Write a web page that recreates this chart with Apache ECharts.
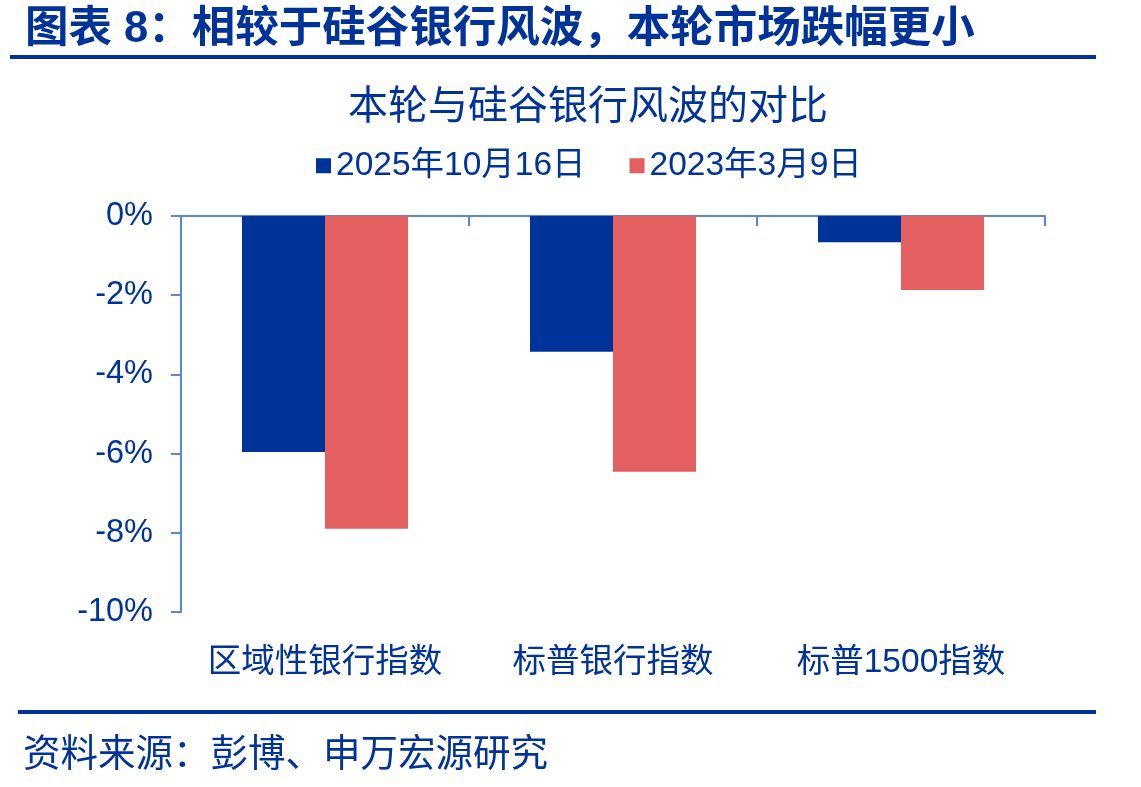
<!DOCTYPE html>
<html>
<head>
<meta charset="utf-8">
<script src="https://cdn.jsdelivr.net/npm/echarts@6/dist/echarts.min.js"></script>
<style>
  html, body { margin: 0; padding: 0; background: #fff; }
  #chart { width: 1141px; height: 787px; }
</style>
</head>
<body>
<div id="chart"></div>
<script>
const categories = ['区域性银行指数', '标普银行指数', '标普1500指数'];
const seriesNames = ['2025年10月16日', '2023年3月9日'];
const recentDrop = [-5.96, -3.43, -0.66];
const svbDrop = [-7.9, -6.46, -1.87];
const yTicks = { min: -10, max: 0, interval: 2 };

const textBlue = '#003399';
const axisBlue = '#5B87D6';
const font = '"Liberation Sans", "Noto Sans CJK SC", sans-serif';

const chart = echarts.init(document.getElementById('chart'));

const option = {
  animation: false,
  textStyle: { fontFamily: font, color: textBlue },
  title: [
    {
      text: '图表 8：相较于硅谷银行风波，本轮市场跌幅更小',
      left: 20, top: 3,
      textStyle: { fontSize: 43.5, fontWeight: 'bold', color: textBlue, fontFamily: font }
    },
    {
      text: '本轮与硅谷银行风波的对比',
      left: 343, top: 83,
      textStyle: { fontSize: 40, fontWeight: 'normal', color: textBlue, fontFamily: font }
    },
    {
      text: '资料来源：彭博、申万宏源研究',
      left: 18, top: 732,
      textStyle: { fontSize: 37.5, fontWeight: 'normal', color: textBlue, fontFamily: font }
    }
  ],
  graphic: [
    { type: 'rect', shape: { x: 10, y: 55, width: 1086, height: 4 }, style: { fill: textBlue } },
    { type: 'rect', shape: { x: 18, y: 710, width: 1078, height: 4 }, style: { fill: textBlue } }
  ],
  legend: {
    data: seriesNames,
    top: 144,
    left: 311,
    itemWidth: 15,
    itemHeight: 15,
    itemGap: 44,
    icon: 'rect',
    textStyle: { fontSize: 33.5, color: textBlue, fontFamily: font }
  },
  grid: { left: 181, right: 96, top: 216, bottom: 175, containLabel: false },
  xAxis: [
    {
      type: 'category',
      data: categories,
      position: 'top',
      axisLine: { show: true, lineStyle: { color: axisBlue, width: 2 } },
      axisTick: { show: true, inside: true, length: 10, lineStyle: { color: axisBlue, width: 2 } },
      axisLabel: { show: false }
    },
    {
      type: 'category',
      data: categories,
      position: 'bottom',
      axisLine: { show: false },
      axisTick: { show: false },
      axisLabel: { show: true, interval: 0, margin: 34, fontSize: 33.5, color: textBlue, fontFamily: font }
    }
  ],
  yAxis: {
    type: 'value',
    min: yTicks.min,
    max: yTicks.max,
    interval: yTicks.interval,
    axisLine: { show: true, lineStyle: { color: axisBlue, width: 2 } },
    axisTick: { show: true, length: 10, lineStyle: { color: axisBlue, width: 2 } },
    splitLine: { show: false },
    axisLabel: {
      margin: 28,
      fontSize: 32.5,
      color: textBlue,
      fontFamily: font,
      formatter: v => v + '%'
    }
  },
  series: [
    {
      name: seriesNames[0],
      type: 'bar',
      data: recentDrop,
      barWidth: 83,
      barGap: '0%',
      itemStyle: { color: '#003399' }
    },
    {
      name: seriesNames[1],
      type: 'bar',
      data: svbDrop,
      barWidth: 83,
      barGap: '0%',
      itemStyle: { color: '#E35F60' }
    }
  ]
};

chart.setOption(option);
</script>
</body>
</html>
